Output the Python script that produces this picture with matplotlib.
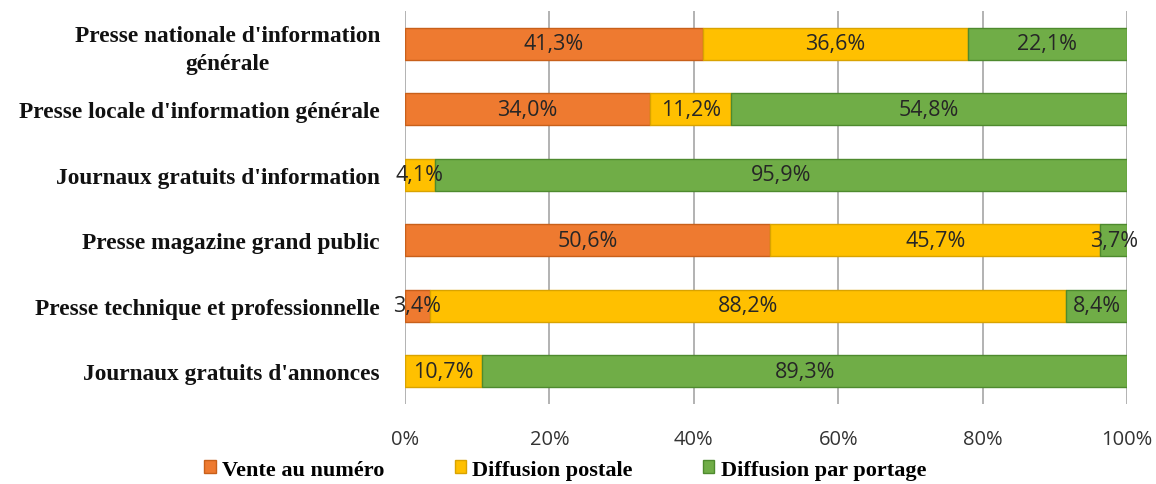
import numpy as np
import matplotlib
matplotlib.use("Agg")
import matplotlib.pyplot as plt

categories = ["Presse nationale d'information\ngénérale",
              "Presse locale d'information générale",
              "Journaux gratuits d'information",
              "Presse magazine grand public",
              "Presse technique et professionnelle",
              "Journaux gratuits d'annonces"]
vente = [41.3, 34.0, 0.0, 50.6, 3.4, 0.0]
postale = [36.6, 11.2, 4.1, 45.7, 88.2, 10.7]
portage = [22.1, 54.8, 95.9, 3.7, 8.4, 89.3]
series_names = ["Vente au numéro", "Diffusion postale", "Diffusion par portage"]
colors = ["#EE7A30", "#FFC000", "#70AD47"]
edges = ["#C8601A", "#D9A300", "#4E8A2E"]

fig = plt.figure(figsize=(11.56, 4.85), dpi=100)
ax = fig.add_axes([0.3503, 0.165, 0.6247, 0.81])

y = np.arange(len(categories))[::-1]
left = np.zeros(len(categories))
for vals, name, col, ec in zip([vente, postale, portage], series_names, colors, edges):
    vals = np.array(vals)
    ax.barh(y, vals, left=left, height=0.49, color=col, edgecolor=ec,
            linewidth=1.0, label=name, zorder=3)
    for yi, l, v in zip(y, left, vals):
        if v > 0:
            ax.text(l + v / 2, yi, f"{v:.1f}%".replace(".", ","),
                    ha="center", va="center", fontsize=15.5,
                    family="Open Sans", color="#262626", zorder=4)
    left += vals

ax.set_xlim(0, 100)
ax.set_ylim(-0.5, 5.5)
ax.set_xticks(np.arange(0, 101, 20))
ax.set_xticklabels([f"{t}%" for t in range(0, 101, 20)],
                   fontsize=14.5, family="Open Sans", color="#333333")
ax.set_yticks(y)
ax.set_yticklabels(categories, fontsize=16.8, family="Liberation Serif",
                   fontweight="bold", color="#111111", linespacing=1.4)
for lab in ax.get_yticklabels():
    lab.set_multialignment("center")
ax.tick_params(axis="both", length=0)
ax.tick_params(axis="x", pad=18)
ax.tick_params(axis="y", pad=18)
ax.grid(axis="x", color="#A6A6A6", linewidth=1.2, zorder=0)
for s in ax.spines.values():
    s.set_visible(False)

leg = fig.legend(loc="lower center", bbox_to_anchor=(0.489, -0.032), ncol=3,
                 frameon=False, handlelength=0.5, handleheight=0.5,
                 handletextpad=0.3, columnspacing=3.15,
                 prop={"family": "Liberation Serif", "weight": "bold", "size": 16})

fig.savefig("out.png", dpi=100)
